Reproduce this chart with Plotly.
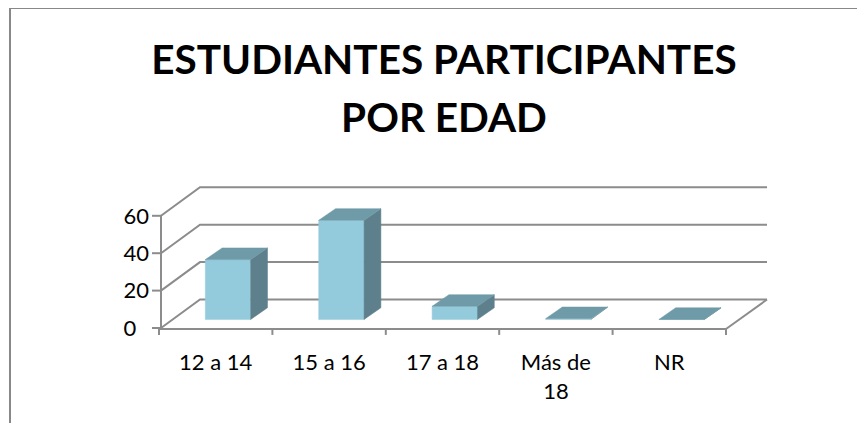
import plotly.graph_objects as go

categories = ["12 a 14", "15 a 16", "17 a 18", "Más de<br>18", "NR"]
values = [32, 53, 7, 0.4, 0]
y_ticks = [0, 20, 40, 60]
y_tick_labels = ["0\u2007", "20", "40", "60"]

FRONT = "#94CBDC"
TOP = "#6F9AA8"
SIDE = "#5D808C"
GRID = "#8C8C8C"
BORDER = "#888888"
FONT = "Lato"

# oblique projection of the 3-D box, in axis units
PX_X = 113.4
PX_Y = 1.87
DEPTH_X = 41 / PX_X
DEPTH_Y = 28.5 / PX_Y
BAR_W = 0.4
D0, D1 = 0.3, 0.71
N = len(categories)
LEFT = 2 / PX_X
FRONT_Y = -0.5


def proj(x, v, d):
    return x + d * DEPTH_X, v + d * DEPTH_Y


def poly(points, color):
    xs, ys = zip(*[proj(*p) for p in points + [points[0]]])
    return go.Scatter(x=xs, y=ys, mode="lines", fill="toself", fillcolor=color,
                      line=dict(color=color, width=0.5), hoverinfo="skip", showlegend=False)


def line(points, width=2, color=GRID):
    xs, ys = zip(*[proj(*p) for p in points])
    return go.Scatter(x=list(xs), y=list(ys), mode="lines", line=dict(color=color, width=width),
                      hoverinfo="skip", showlegend=False)


fig = go.Figure()

# back wall grid and left wall slants
for t in y_ticks:
    fig.add_trace(line([(LEFT, t, 0), (0, t, 1), (N, t, 1)]))
    fig.add_trace(line([(LEFT - 9 / PX_X, t, 0), (LEFT, t, 0)]))
# floor right edge
fig.add_trace(line([(N, 0, 1), (N, FRONT_Y, 0)]))
for i in range(N + 1):
    fig.add_trace(line([(i, FRONT_Y, 0), (i, -3.7, 0)]))

# bars
for i, v in enumerate(values):
    l = i + 0.5 - BAR_W / 2
    r = i + 0.5 + BAR_W / 2
    fig.add_trace(poly([(l, 0, D0), (r, 0, D0), (r, v, D0), (l, v, D0)], FRONT))
    fig.add_trace(poly([(r, 0, D0), (r, 0, D1), (r, v, D1), (r, v, D0)], SIDE))
    fig.add_trace(poly([(l, v, D0), (r, v, D0), (r, v, D1), (l, v, D1)], TOP))

PLOT_W = 625
PLOT_H = 156
fig.update_layout(
    width=857, height=415, autosize=False,
    margin=dict(l=142, r=90, t=172, b=87),
    paper_bgcolor="white", plot_bgcolor="white",
    title=dict(text='<span style="font-size:40.5px"><b>ESTUDIANTES PARTICIPANTES<br>POR EDAD</b></span>',
               x=436 / 857, xanchor="center",
               y=1 - 66 / 415, yanchor="top", font=dict(family=FONT, size=44.5, color="black")),
    xaxis=dict(range=[-9 / PX_X, 616 / PX_X], tickmode="array",
               tickvals=[i + 0.5 for i in range(N)], ticktext=categories,
               showgrid=False, zeroline=False, showline=False, ticks="", ticklabelstandoff=11,
               tickfont=dict(family=FONT, size=22, color="black")),
    yaxis=dict(range=[-8 / PX_Y, 148 / PX_Y], tickmode="array", tickvals=y_ticks,
               ticktext=y_tick_labels,
               showgrid=False, zeroline=False, showline=False, ticks="",
               tickfont=dict(family=FONT, size=22, color="black")),
)
# front floor edge and vertical axis, placed in axis coordinates
fig.add_shape(type="line", xref="x", yref="y", x0=0, x1=N, y0=FRONT_Y, y1=FRONT_Y,
              line=dict(color=GRID, width=2))
fig.add_shape(type="line", xref="x", yref="y", x0=LEFT, x1=LEFT, y0=FRONT_Y, y1=y_ticks[-1],
              line=dict(color=GRID, width=2))
# chart frame: only the top and left edges are visible in the crop
TOP_EDGE = (PLOT_H + 85 + 87) / PLOT_H
fig.add_shape(type="line", xref="paper", yref="paper", x0=-140 / PLOT_W, x1=715 / PLOT_W,
              y0=TOP_EDGE, y1=TOP_EDGE, line=dict(color=BORDER, width=2))
fig.add_shape(type="line", xref="paper", yref="paper", x0=-140 / PLOT_W, x1=-140 / PLOT_W,
              y0=-87 / PLOT_H, y1=TOP_EDGE, line=dict(color=BORDER, width=2))

fig.write_html("out.html")
